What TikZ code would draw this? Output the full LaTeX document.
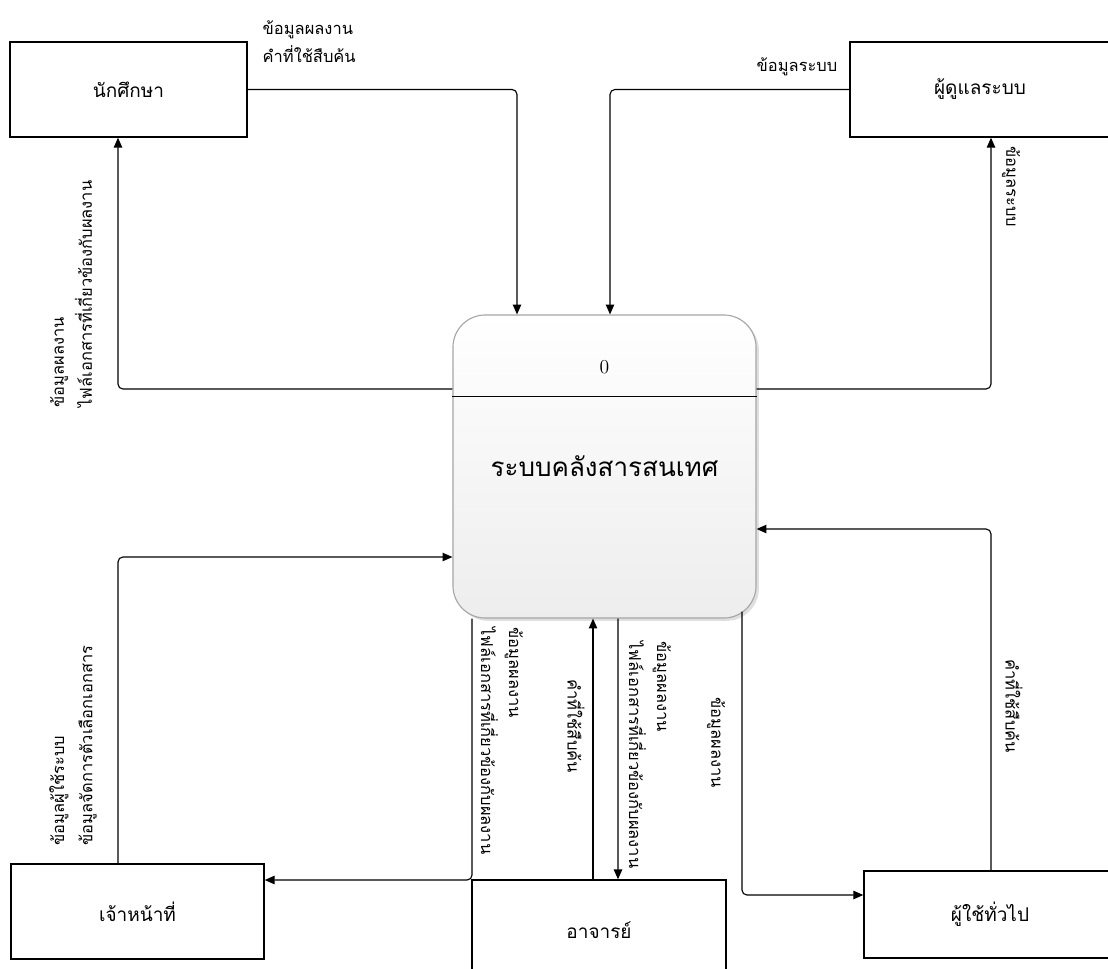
\documentclass[tikz,border=0pt]{standalone}
\usepackage{fontspec}
\newfontfamily\thaifont[Script=Thai]{Loma}
\usetikzlibrary{arrows.meta,calc,shadows}

\begin{document}
\begin{tikzpicture}[
        x=0.025cm, y=-0.025cm,
        entity/.style={draw, line width=1pt, rectangle, minimum height=2.375cm, font=\thaifont\fontsize{13.5}{16}\selectfont},
        process/.style={draw=gray!70, line width=0.8pt, rounded corners=23pt, minimum width=7.575cm, minimum height=7.575cm,
            top color=white, bottom color=gray!14, drop shadow={opacity=0.25, shadow xshift=2pt, shadow yshift=-2pt},
            font=\thaifont\fontsize{18.5}{22}\selectfont},
        flow/.style={draw, line width=0.8pt, rounded corners=3.5pt, -{Triangle[length=7pt,width=6pt]}},
        flowtext/.style={font=\thaifont\fontsize{11.7}{20}\selectfont, align=left, inner sep=1pt},
        uptext/.style={flowtext, rotate=90, anchor=west},
        downtext/.style={flowtext, rotate=-90, anchor=west}
    ]
        \useasboundingbox (0,0) rectangle (1108,968);
        \clip (0,0) rectangle (1108,968);

        % กระบวนการหลัก
        \node[process] (proc) at (604.5,466.5) {ระบบคลังสารสนเทศ};
        \draw[line width=0.8pt] ($(proc.north west)+(0,82)$) -- ($(proc.north east)+(0,82)$);
        \node[font=\fontsize{14}{16}\selectfont] (pnum) at ($(proc.north)+(0,53)$) {0};

        % ผู้เกี่ยวข้องภายนอก
        \node[entity, minimum width=5.925cm] (stu) at (128.5,89.5) {นักศึกษา};
        \node[entity, minimum width=6.5cm] (admin) at (980,89.5) {ผู้ดูแลระบบ};
        \node[entity, minimum width=6.325cm] (staff) at (137.5,911.5) {เจ้าหน้าที่};
        \node[entity, minimum width=6.35cm, minimum height=2.5cm] (tch) at (599,930) {อาจารย์};
        \node[entity, minimum width=6.3cm, minimum height=2.175cm] (user) at (990,914.5) {ผู้ใช้ทั่วไป};

        % เส้นการไหลของข้อมูล
        \draw[flow] (stu.east) -| ($(proc.north)+(-87.5,0)$);
        \draw[flow] (admin.west) -| ($(proc.north)+(5.5,0)$);
        \draw[flow] ($(proc.west)+(0,-77.5)$) -| ($(stu.south)+(-10.5,0)$);
        \draw[flow] ($(proc.east)+(0,-77.5)$) -| ($(admin.south)+(11,0)$);
        \draw[flow] ($(staff.north)+(-19.5,0)$) |- ($(proc.west)+(0,90.5)$);
        \draw[flow] ($(proc.south)+(-132.5,0)$) |- ($(staff.east)+(0,-31.5)$);
        \draw[flow] ($(tch.north)+(-6,0)$) -- ($(proc.south)+(-11.5,0)$);
        \draw[flow] ($(proc.south)+(13.5,0)$) -- ($(tch.north)+(19,0)$);
        \draw[flow] ($(proc.south)+(137.5,-7)$) |- ($(user.west)+(0,-19.5)$);
        \draw[flow] ($(user.north)+(1,0)$) |- ($(proc.east)+(0,62.5)$);

        % ชื่อข้อมูล
        \node[flowtext, anchor=west] (t1) at (261,41.5) {ข้อมูลผลงาน\\คำที่ใช้สืบค้น};
        \node[flowtext, anchor=east] (t2) at (839,67) {ข้อมูลระบบ};
        \node[uptext] (t3) at (71,409) {ข้อมูลผลงาน\\ไฟล์เอกสารที่เกี่ยวข้องกับผลงาน};
        \node[downtext] (t4) at (1011,145) {ข้อมูลระบบ};
        \node[uptext] (t5) at (73,847) {ข้อมูลผู้ใช้ระบบ\\ข้อมูลจัดการตัวเลือกเอกสาร};
        \node[downtext] (t6) at (502,626) {ข้อมูลผลงาน\\ไฟล์เอกสารที่เกี่ยวข้องกับผลงาน};
        \node[downtext] (t7) at (576,678) {คำที่ใช้สืบค้น};
        \node[downtext] (t8) at (650,640) {ข้อมูลผลงาน\\ไฟล์เอกสารที่เกี่ยวข้องกับผลงาน};
        \node[downtext] (t9) at (716,696) {ข้อมูลผลงาน};
        \node[downtext] (t10) at (1014,658) {คำที่ใช้สืบค้น};
    \end{tikzpicture}
\end{document}
